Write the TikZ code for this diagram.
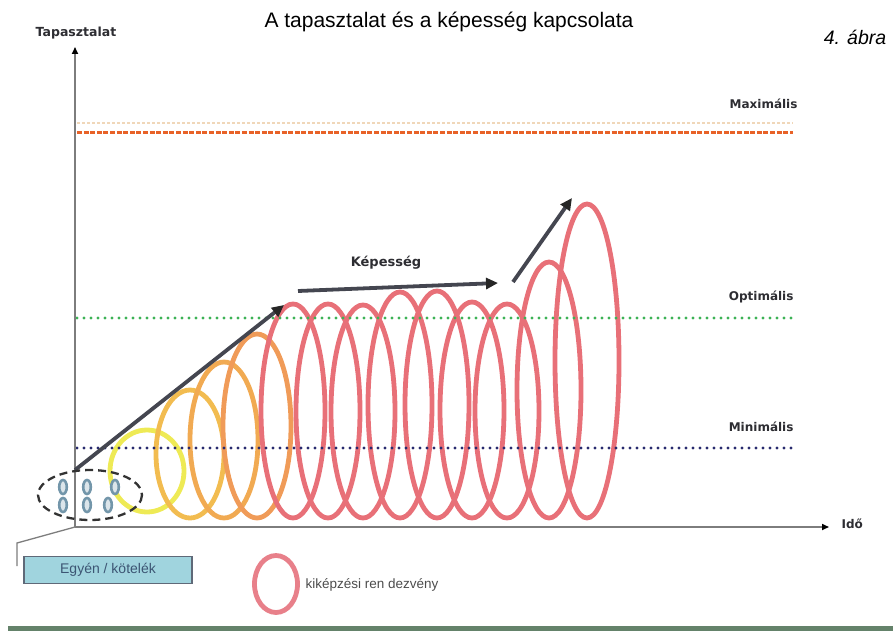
\documentclass[tikz,border=0pt]{standalone}
\usepackage{fontspec}
\setmainfont{Liberation Sans}
\newfontfamily\lblfont{DejaVu Sans}
\usetikzlibrary{arrows.meta}

\definecolor{axisgray}{RGB}{125,125,125}
\definecolor{arrowgray}{RGB}{68,70,80}
\definecolor{maxorange}{RGB}{232,98,40}
\definecolor{maxfaint}{RGB}{240,215,185}
\definecolor{optgreen}{RGB}{60,178,85}
\definecolor{minblue}{RGB}{40,42,110}
\definecolor{ringyellow}{RGB}{238,234,85}
\definecolor{ringorangeA}{RGB}{242,188,80}
\definecolor{ringorangeB}{RGB}{241,170,82}
\definecolor{ringorangeC}{RGB}{240,155,88}
\definecolor{ringred}{RGB}{232,112,120}
\definecolor{legendred}{RGB}{232,128,138}
\definecolor{personblue}{RGB}{115,150,170}
\definecolor{boxfill}{RGB}{160,212,222}
\definecolor{boxdraw}{RGB}{95,105,120}
\definecolor{boxtext}{RGB}{60,85,115}
\definecolor{barGreen}{RGB}{100,130,106}
\definecolor{labeltext}{RGB}{45,45,50}

\begin{document}
\begin{tikzpicture}[x=1pt,y=-1pt,
  axis/.style={draw=axisgray,line width=1.6pt,
    -{Triangle[length=7pt,width=6pt,color=black]}},
  trend/.style={draw=arrowgray,line width=3.8pt,
    -{Triangle[length=12pt,width=11pt,color=black!85]}},
  level/.style={font=\lblfont\bfseries\fontsize{12}{14}\selectfont,text=labeltext},
  dotline/.style={line width=3.2pt,line cap=round,dash pattern=on 0pt off 7pt},
  ring/.style={line width=4.8pt},
  person/.style={draw=personblue,line width=2.6pt,fill=personblue!25},
]
\useasboundingbox (0,0) rectangle (893,631);

% headings
\node (title) at (449,22) {\fontsize{21}{25}\selectfont A tapasztalat és a képesség kapcsolata};
\node (fig) at (855,37) {\fontsize{19.5}{23}\selectfont\itshape 4. ábra};

% level line end points
\coordinate (maxL) at (77,133);  \coordinate (maxR) at (793,133);
\coordinate (maxfL) at (77,123); \coordinate (maxfR) at (793,123);
\coordinate (optL) at (77,318);  \coordinate (optR) at (793,318);
\coordinate (minL) at (77,448);  \coordinate (minR) at (793,448);

% training rings: yellow -> orange -> red
\draw[ring,ringyellow]  (147,471) ellipse [x radius=37,y radius=41];
\draw[ring,ringorangeA] (190,454) ellipse [x radius=34,y radius=64];
\draw[ring,ringorangeB] (224,440) ellipse [x radius=34,y radius=78];
\draw[ring,ringorangeC] (257,426) ellipse [x radius=34,y radius=92];
\foreach \cx/\cy/\ry in {293/411/107,328/411/107,363/411.5/106.5,400/405/113,
                        437/404.5/113.5,472/410/108,507/411/107,549/390/128,587/361/157}
  \draw[ring,ringred] (\cx,\cy) ellipse [x radius=32,y radius=\ry];

% level lines
\draw[maxfaint,line width=1.6pt,dash pattern=on 3pt off 2pt] (maxfL) -- (maxfR);
\draw[maxorange,line width=3pt,dash pattern=on 5pt off 1.6pt] (maxL) -- (maxR);
\draw[dotline,optgreen] (optL) -- (optR);
\draw[dotline,minblue] (minL) -- (minR);

\node[level,anchor=east] (maxlbl) at (801,104) {Maximális};
\node[level,anchor=east] (optlbl) at (797,297) {Optimális};
\node[level,anchor=east] (minlbl) at (797,427) {Minimális};

% axes
\coordinate (origin) at (75,527);
\coordinate (ytop) at (75,47);
\coordinate (xend) at (829,527);
\draw[axis] (origin) -- (ytop);
\draw[axis] (origin) -- (xend);
\node[level,font=\lblfont\bfseries\fontsize{12.5}{14}\selectfont] (ylbl) at (76,33) {Tapasztalat};
\node[level,anchor=west] (xlbl) at (838,524) {Idő};

% capability trend arrows
\coordinate (a1s) at (75,470);  \coordinate (a1e) at (284,305);
\coordinate (a2s) at (298,291); \coordinate (a2e) at (498,283);
\coordinate (a3s) at (513,282); \coordinate (a3e) at (572,198);
\draw[trend] (a1s) -- (a1e);
\draw[trend] (a2s) -- (a2e);
\draw[trend] (a3s) -- (a3e);
\node[font=\lblfont\bfseries\fontsize{13}{15}\selectfont,text=labeltext] (caplbl) at (386,263) {Képesség};

% individual / unit group
\foreach \px/\py in {63/487,87/487,115/487,63/505,87/505,108/505}
  \draw[person] (\px,\py) ellipse [x radius=3.8,y radius=7];
\draw[black!80,line width=2.3pt,dash pattern=on 8pt off 5pt] (90,495) ellipse [x radius=52,y radius=25];
\node[draw=boxdraw,line width=1.6pt,fill=boxfill,minimum width=168pt,minimum height=27pt,
      text=boxtext,font=\fontsize{14}{16}\selectfont] (unitbox) at (108,570) {Egyén / kötelék};
\coordinate (lead1) at (17,543);
\coordinate (lead2) at (17,566);
\draw[axisgray,line width=1.3pt] (origin) -- (lead1) -- (lead2);

% legend
\draw[ring,legendred] (276,584) ellipse [x radius=21.5,y radius=28.5];
\node[anchor=west,text=black!70,font=\fontsize{13.5}{16}\selectfont] (legendlbl) at (302,585) {kiképzési ren dezvény};

% bottom bar
\fill[barGreen] (8,626) rectangle (893,631);
\end{tikzpicture}
\end{document}
